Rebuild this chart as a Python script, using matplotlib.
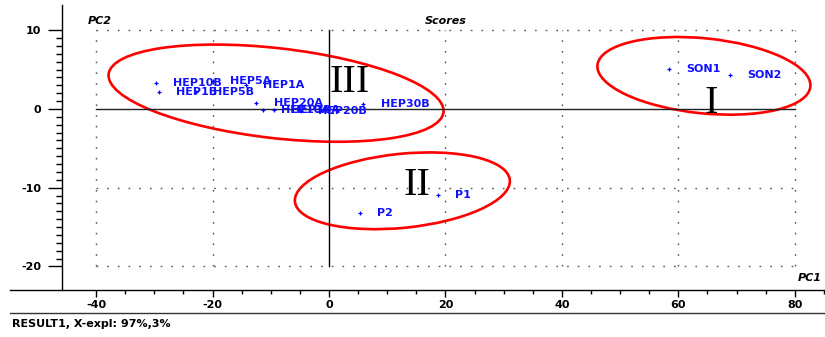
import numpy as np
import matplotlib
matplotlib.use("Agg")
import matplotlib.pyplot as plt
from matplotlib.patches import Ellipse
from matplotlib.lines import Line2D
from matplotlib.transforms import ScaledTranslation

plt.rcParams["axes.unicode_minus"] = False

# PCA scores (PC1, PC2)
names = ["HEP10B", "HEP1B", "HEP5B", "HEP5A", "HEP1A", "HEP20A", "HEP10A", "HEP30A",
         "HEP20B", "HEP30B", "SON1", "SON2", "P1", "P2"]
pc1 = [-29.8, -29.2, -22.9, -20.0, -14.3, -12.5, -11.3, -9.5, -4.8, 5.9, 58.4, 68.9, 18.7, 5.3]
pc2 = [3.27, 2.1, 2.1, 3.6, 3.05, 0.75, -0.13, -0.2, -0.3, 0.6, 5.08, 4.32, -10.9, -13.2]

# hand drawn group ellipses: centre (data), size in pixels, tilt in degrees
groups = ["III", "II", "I"]
ell_cx = [-9.1, 12.6, 64.4]
ell_cy = [2.0, -10.4, 4.2]
ell_w = [337, 216, 214]
ell_h = [90, 74, 75]
ell_ang = [-6.5, 5.8, -5.8]
# roman numeral positions
num_x = [3.6, 15.1, 65.6]
num_y = [3.3, -9.7, 0.75]

xticks = [-40, -20, 0, 20, 40, 60, 80]
yticks = [-20, -10, 0, 10]

fig = plt.figure(figsize=(8.25, 3.37), dpi=100)
W, H = 825, 337
ax = fig.add_axes([10 / W, (H - 290) / H, 815 / W, 285 / H])
ax.set_xlim(-54.8, 85.2)
ax.set_ylim(-23.0, 13.2)

for s in ["top", "right"]:
    ax.spines[s].set_visible(False)
ax.spines["left"].set_position(("data", -45.8))
ax.spines["left"].set_linewidth(1.0)
ax.spines["bottom"].set_linewidth(1.0)

ax.set_xticks(xticks)
ax.set_xticks(np.arange(-40, 86, 5), minor=True)
ax.set_yticks(yticks)
ax.set_yticks(np.arange(-20, 11, 1), minor=True)
ax.tick_params(axis="x", which="major", direction="out", length=5, width=1, pad=2, labelsize=8)
ax.tick_params(axis="x", which="minor", direction="out", length=3, width=1)
ax.tick_params(axis="y", which="major", direction="out", length=10, width=1, pad=5, labelsize=8)
ax.tick_params(axis="y", which="minor", direction="out", length=4.5, width=1)
for lab in ax.get_xticklabels() + ax.get_yticklabels():
    lab.set_fontweight("bold")

# dotted grid inside the score box
gx0, gx1, gy0, gy1 = xticks[0], xticks[-1], yticks[0], yticks[-1]
for x in xticks:
    if x != 0:
        ax.plot([x, x], [gy0, gy1], color="#555555", lw=1.0, ls=(0, (1.2, 6.5)))
for y in yticks:
    if y != 0:
        ax.plot([gx0, gx1], [y, y], color="#555555", lw=1.0, ls=(0, (1.2, 6.5)))
ax.plot([gx0, gx1], [0, 0], color="#222222", lw=1.0)
ax.plot([0, 0], [gy0, gy1], color="black", lw=1.0)

# points and labels
ax.plot(pc1, pc2, ls="none", marker="+", ms=3, mew=0.9, color="blue")
for n, x, y in zip(names, pc1, pc2):
    ax.annotate(n, (x, y), xytext=(12.5, 0), textcoords="offset points",
                ha="left", va="center", fontsize=8, fontweight="bold", color="#1010ff")

# group ellipses and numerals
for cx, cy, w, h, a in zip(ell_cx, ell_cy, ell_w, ell_h, ell_ang):
    tr = fig.dpi_scale_trans + ScaledTranslation(cx, cy, ax.transData)
    ax.add_patch(Ellipse((0, 0), w / 100, h / 100, angle=a, transform=tr,
                         fill=False, edgecolor="red", lw=1.9))
for g, x, y in zip(groups, num_x, num_y):
    ax.text(x, y, g, ha="center", va="center", fontsize=29,
            family="Liberation Serif", color="black")

# titles
ax.text(-41.5, 11.2, "PC2", fontsize=8, fontweight="bold", style="italic",
        ha="left", va="center")
ax.text(20.0, 11.2, "Scores", fontsize=8, fontweight="bold", style="italic",
        ha="center", va="center")
ax.text(84.7, -21.5, "PC1", fontsize=8, fontweight="bold", style="italic",
        ha="right", va="center")

# lower frame line and caption
fig.add_artist(Line2D([10 / W, 1.0], [(H - 313) / H] * 2, color="#333333", lw=1.0))
fig.text(12 / W, (H - 324) / H, "RESULT1, X-expl: 97%,3%", fontsize=8,
         fontweight="bold", ha="left", va="center")

fig.savefig("out.png", dpi=100)
